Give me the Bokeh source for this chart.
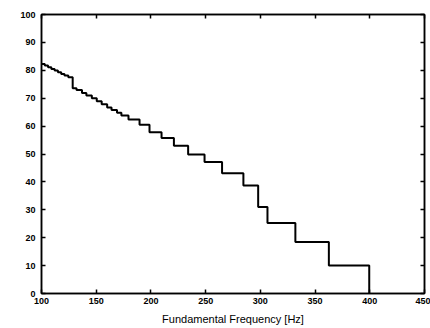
from bokeh.plotting import figure
from bokeh.models import LinearAxis, FixedTicker
from bokeh.embed import file_html
from bokeh.resources import INLINE

# step edges (Hz) and level (value) that starts at each edge
freq_edges = [100, 103, 106, 109, 112, 115, 118, 121, 124.5, 128.5, 132, 137, 141, 146,
              150.5, 155, 160, 164, 169, 173, 179.5, 189.6, 198.7, 209.7, 221, 234,
              249, 265, 284.5, 298, 306.5, 332, 362.6, 399.5]
levels = [82.3, 81.7, 81.1, 80.5, 79.9, 79.3, 78.7, 78.1, 77.5, 73.6, 72.9, 71.9, 71.0, 70.0,
          68.9, 67.8, 66.7, 65.8, 64.8, 63.8, 62.4, 60.5, 57.8, 55.7, 53.0, 49.8,
          47.1, 43.1, 38.7, 31.0, 25.3, 18.5, 10.0, 0.0]

x_ticks = [100, 150, 200, 250, 300, 350, 400, 450]
y_ticks = [0, 10, 20, 30, 40, 50, 60, 70, 80, 90, 100]
x_label = "Fundamental Frequency [Hz]"

FONT = "Liberation Sans"

p = figure(width=430, height=328, x_range=(100, 450), y_range=(0, 100),
           output_backend="svg", toolbar_location=None)
p.min_border_left = 41
p.min_border_right = 6
p.min_border_top = 14
p.min_border_bottom = 35
p.background_fill_color = "white"
p.border_fill_color = "white"
p.outline_line_color = "black"
p.outline_line_width = 1.5
p.xgrid.visible = False
p.ygrid.visible = False

p.step(freq_edges, levels, mode="after", line_color="black", line_width=2)

def style(ax, ticks, labels=True):
    ax.ticker = FixedTicker(ticks=ticks)
    ax.axis_line_color = "black"
    ax.axis_line_width = 1.5
    ax.major_tick_in = 4
    ax.major_tick_out = 0
    ax.major_tick_line_color = "black"
    ax.major_tick_line_width = 1.5
    ax.minor_tick_line_color = None
    ax.major_label_text_font = FONT
    ax.major_label_text_font_style = "bold"
    ax.major_label_text_font_size = "9px"
    ax.major_label_text_color = "black"
    if not labels:
        ax.major_label_overrides = {t: "" for t in ticks}
        ax.major_label_standoff = 0

xa = p.xaxis[0]
style(xa, x_ticks)
xa.major_label_standoff = 4
xa.axis_label = x_label
xa.axis_label_text_font = FONT
xa.axis_label_text_font_style = "normal"
xa.axis_label_text_font_size = "11px"
xa.axis_label_text_color = "black"
xa.axis_label_standoff = 6

ya = p.yaxis[0]
style(ya, y_ticks)
ya.major_label_standoff = 6

top = LinearAxis()
style(top, x_ticks, labels=False)
p.add_layout(top, "above")

right = LinearAxis()
style(right, y_ticks, labels=False)
p.add_layout(right, "right")

open("out.html", "w").write(file_html(p, INLINE))
